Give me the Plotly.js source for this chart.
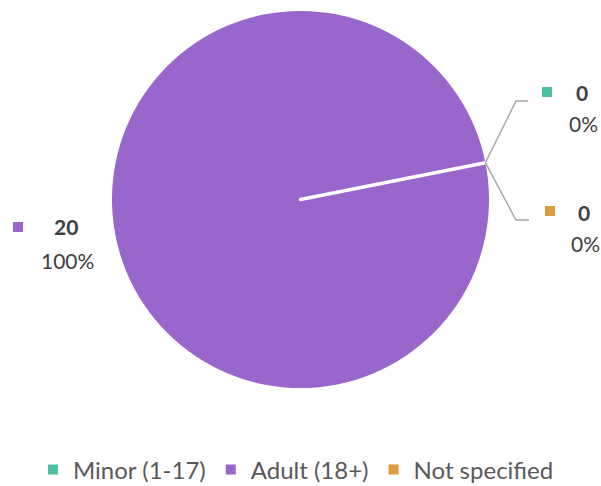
<!DOCTYPE html>
<html><head><meta charset="utf-8">
<script src="https://cdn.plot.ly/plotly-3.0.1.min.js"></script>
<style>html,body{margin:0;padding:0;background:#fff;}#chart{width:601px;height:486px;}</style>
</head><body><div id="chart"></div>
<script>
const categories = ["Minor (1-17)", "Adult (18+)", "Not specified"];
const counts = [0, 20, 0];
const colors = ["#4DBFA0", "#9966CC", "#E09C3C"];

const W = 601, H = 486;
const FONT = "Lato, 'Open Sans', sans-serif";
const px = x => x / W;
const py = y => 1 - y / H;
const total = counts.reduce((a, b) => a + b, 0);
const pct = v => Math.round(100 * v / total) + "%";

// label anchor positions (layout only)
const labelPos = [
  {sq: [547, 92], val: [582, 93], pc: [583, 124]},
  {sq: [18, 227], val: [66, 227], pc: [67, 260]},
  {sq: [550, 211], val: [584, 212], pc: [585, 243]}
];

const annotations = [];
const shapes = [];
categories.forEach((c, i) => {
  const p = labelPos[i];
  shapes.push({type: "rect", xref: "paper", yref: "paper",
    x0: px(p.sq[0] - 5), x1: px(p.sq[0] + 5), y0: py(p.sq[1] + 5), y1: py(p.sq[1] - 5),
    fillcolor: colors[i], line: {width: 0}});
  annotations.push({xref: "paper", yref: "paper", x: px(p.val[0]), y: py(p.val[1]),
    xanchor: "center", yanchor: "middle", showarrow: false,
    text: "<b>" + counts[i] + "</b>", font: {family: FONT, size: 21, color: "#404040"}});
  annotations.push({xref: "paper", yref: "paper", x: px(p.pc[0]), y: py(p.pc[1]),
    xanchor: "center", yanchor: "middle", showarrow: false,
    text: pct(counts[i]), font: {family: FONT, size: 21, color: "#404040"}});
});

// leader lines from the slice boundary to the zero-value labels
const rotation = 78.75;
const cx = 300.5, cy = 199.5, R = 188.5;
const edge = [cx + R * Math.sin(rotation * Math.PI / 180), cy - R * Math.cos(rotation * Math.PI / 180)];
const leaders = [[[516, 101], [528, 101]], [[516, 220], [529, 220]]];
leaders.forEach(l => {
  shapes.push({type: "path", xref: "paper", yref: "paper",
    path: `M ${px(edge[0])} ${py(edge[1])} L ${px(l[0][0])} ${py(l[0][1])} L ${px(l[1][0])} ${py(l[1][1])}`,
    line: {color: "#A6A6A6", width: 1.5}});
});

const data = [{
  type: "pie", labels: categories, values: counts, sort: false,
  direction: "clockwise", rotation: rotation,
  marker: {colors: colors, line: {color: "#FFFFFF", width: [3.5, 0, 3.5]}},
  textinfo: "none", hoverinfo: "label+value+percent", showlegend: false,
  domain: {x: [px(cx - R), px(cx + R)], y: [py(cy + R), py(cy - R)]}
}];
categories.forEach((c, i) => {
  data.push({type: "scatter", mode: "markers", x: [null], y: [null], name: c,
    marker: {symbol: "square", size: 10, color: colors[i]}, hoverinfo: "skip"});
});

const layout = {
  width: W, height: H, margin: {l: 0, r: 0, t: 0, b: 0, autoexpand: false},
  paper_bgcolor: "#fff", plot_bgcolor: "#fff",
  xaxis: {visible: false}, yaxis: {visible: false},
  showlegend: true,
  legend: {orientation: "h", x: px(296), xanchor: "center", y: py(470), yanchor: "middle",
    font: {family: FONT, size: 24, color: "#595959"}, itemclick: false, itemdoubleclick: false,
    tracegroupgap: 0, itemwidth: 30},
  annotations: annotations, shapes: shapes
};
Plotly.newPlot("chart", data, layout, {displayModeBar: false, staticPlot: true});
</script></body></html>
